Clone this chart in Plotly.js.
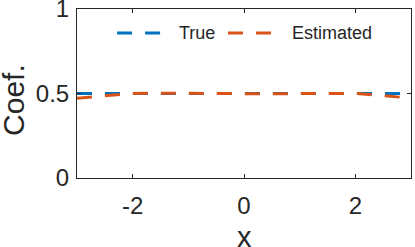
<!DOCTYPE html>
<html><head><meta charset="utf-8">
<script src="https://cdn.plot.ly/plotly-3.0.1.min.js"></script>
<style>html,body{margin:0;padding:0;background:#fff;overflow:hidden}#c{width:415px;height:247px}</style>
</head><body><div id="c"></div>
<script>
const xVals = [-3, -2.5, -2, -1.5, -1, -0.5, 0, 0.5, 1, 1.5, 2, 2.5, 3];
const trueVals = [0.5, 0.5, 0.5, 0.5, 0.5, 0.5, 0.5, 0.5, 0.5, 0.5, 0.5, 0.5, 0.5];
const estVals = [0.472, 0.488, 0.5, 0.502, 0.5, 0.499, 0.499, 0.499, 0.5, 0.502, 0.5, 0.488, 0.472];
const seriesNames = ['True', 'Estimated'];
const seriesColors = ['#0072BD', '#D95319'];
const xTicks = [-2, 0, 2];
const yTicks = [0, 0.5, 1];
const xTitle = 'x';
const yTitle = 'Coef.';

const FAM = 'Liberation Sans, Arial, Helvetica, sans-serif';
const TXT = '#262626';
const DASH = '15px,13px';
const traces = [
  {x: xVals, y: trueVals, name: seriesNames[0], mode: 'lines', line: {color: seriesColors[0], width: 3, dash: DASH}},
  {x: xVals, y: estVals, name: seriesNames[1], mode: 'lines', line: {color: seriesColors[1], width: 3, dash: DASH}}
];
const axBase = {showgrid: false, zeroline: false, showline: true, linecolor: TXT, linewidth: 1,
  mirror: 'ticks', ticks: 'inside', ticklen: 4, tickcolor: TXT, ticklabeloverflow: 'allow',
  tickfont: {family: FAM, color: TXT, size: 24}};

// manual legend (paper coordinates)
const legY = 0.858;
const legSamples = [[0.120, 0.2545], [0.452, 0.5868]];
const legText = [0.300, 0.638];
const shapes = legSamples.map((s, i) => ({type: 'line', xref: 'paper', yref: 'paper',
  x0: s[0], x1: s[1], y0: legY, y1: legY, line: {color: seriesColors[i], width: 3, dash: DASH}}));
const annotations = legText.map((x, i) => ({xref: 'paper', yref: 'paper', x: x, y: legY,
  xanchor: 'left', yanchor: 'middle', showarrow: false, text: seriesNames[i],
  font: {family: FAM, color: TXT, size: 18}}));
// axis titles
annotations.push({xref: 'paper', yref: 'paper', x: 0.5, y: -0.347, xanchor: 'center', yanchor: 'middle',
  showarrow: false, text: xTitle, font: {family: FAM, color: TXT, size: 29}});
annotations.push({xref: 'paper', yref: 'paper', x: -0.19, y: 0.459, xanchor: 'center', yanchor: 'middle',
  textangle: -90, showarrow: false, text: yTitle, font: {family: FAM, color: TXT, size: 30}});

const layout = {
  width: 415, height: 247,
  margin: {l: 77, r: 4, t: 9, b: 69},
  paper_bgcolor: '#fff', plot_bgcolor: '#fff',
  showlegend: false,
  shapes: shapes,
  annotations: annotations,
  xaxis: Object.assign({}, axBase, {range: [-3, 3], tickvals: xTicks, ticktext: xTicks.map(String),
    ticklabelstandoff: 6}),
  yaxis: Object.assign({}, axBase, {range: [0, 1], tickvals: yTicks, ticktext: yTicks.map(String),
    ticklabelstandoff: 2})
};
Plotly.newPlot('c', traces, layout, {staticPlot: true, displayModeBar: false});
</script></body></html>
